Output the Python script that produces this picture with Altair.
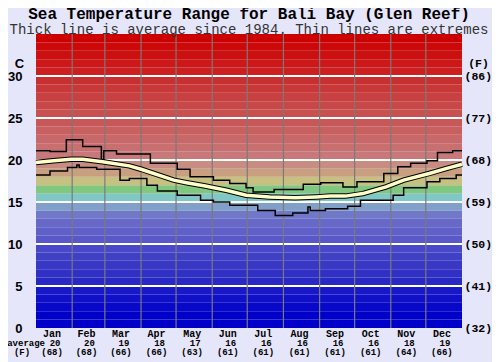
import altair as alt
import pandas as pd

# ---------------- data ----------------
months = ["Jan", "Feb", "Mar", "Apr", "May", "Jun",
          "Jul", "Aug", "Sep", "Oct", "Nov", "Dec"]
month_mid = [15.5, 45, 74.5, 105, 135.5, 166, 196.5, 227.5, 258, 288.5, 319, 349.5]
month_start = [31, 59, 90, 120, 151, 181, 212, 243, 273, 304, 334]
avg_c_label = ["20", "20", "19", "18", "17", "16", "16", "16", "16", "16", "18", "19"]
avg_f_label = ["(68)", "(68)", "(66)", "(66)", "(63)", "(61)",
               "(61)", "(61)", "(61)", "(61)", "(64)", "(66)"]

# maximum (thin upper line), step changes: day of year -> deg C
max_day = [0, 12, 24, 26, 40, 56, 58, 69, 98, 121, 132, 152, 166, 180, 186,
           204, 229, 244, 263, 275, 298, 310, 321, 335, 344, 357, 365]
max_val = [21.1, 21.0, 21.0, 22.4, 21.6, 19.6, 21.1, 20.7, 19.6, 18.9, 18.0,
           17.6, 17.2, 16.7, 16.2, 16.5, 17.1, 17.3, 16.8, 17.4, 18.4, 19.2,
           19.6, 19.9, 20.9, 21.1, 21.1]

# minimum (thin lower line)
min_day = [0, 12, 27, 35, 37, 52, 72, 80, 95, 104, 121, 141, 152, 166, 190,
           205, 220, 233, 235, 248, 267, 278, 306, 315, 335, 346, 360, 365]
min_val = [18.2, 18.7, 19.1, 19.4, 19.1, 18.9, 17.6, 17.8, 17.0, 16.3, 15.8,
           15.2, 15.0, 14.6, 14.0, 13.4, 13.7, 14.4, 14.0, 14.2, 14.5, 15.2,
           15.8, 16.7, 17.4, 17.8, 18.2, 18.2]

# average (thick line)
avg_day = [0, 15, 30, 40, 57, 80, 90, 118, 129, 145, 163, 180, 200, 222,
           240, 252, 265, 280, 300, 315, 337, 352, 365]
avg_val = [19.7, 19.9, 20.1, 20.1, 19.8, 19.3, 18.9, 17.6, 17.3, 16.9, 16.4,
           15.8, 15.6, 15.5, 15.6, 15.7, 15.7, 16.0, 16.8, 17.6, 18.4, 19.0, 19.5]

band_lo = list(range(35))
band_colors = ["#0000c8", "#0000c8", "#0808c8", "#1010c8", "#1818c8",
               "#2828c4", "#3030c4", "#3838c4", "#4040c4", "#4848c8",
               "#5858c8", "#6060c8", "#6868c8", "#7078c8", "#80a0c8",
               "#80c8c8", "#80c880", "#c8c080", "#c8a080", "#c88c80",
               "#c87878", "#c87070", "#c86868", "#c86060", "#c85858",
               "#c85050", "#c84848", "#c84040", "#c83838", "#c83030",
               "#cc2020", "#cc1818", "#cc1010", "#cc0808", "#cc0000"]
y_ticks = [0, 5, 10, 15, 20, 25, 30]

# ---------------- tables ----------------
bands = pd.DataFrame({"lo": band_lo, "hi": [v + 1 for v in band_lo], "color": band_colors})
hlines = pd.DataFrame({"t": y_ticks[1:]})
vlines = pd.DataFrame({"d": month_start})
mx = pd.DataFrame({"day": max_day, "t": max_val})
mn = pd.DataFrame({"day": min_day, "t": min_val})
av = pd.DataFrame({"day": avg_day, "t": avg_val})
lab = pd.DataFrame({"mid": month_mid, "m": months, "c": avg_c_label, "f": avg_f_label})

W, H = 426, 294
MONO = "Liberation Mono"
xs = alt.Scale(domain=[0, 365], nice=False, zero=False)
ys = alt.Scale(domain=[0, 35], nice=False, zero=False)

left_axis = alt.Axis(values=y_ticks, ticks=False, domain=False, grid=False,
                     labelFont="Liberation Sans", labelFontWeight="bold", labelFontSize=13,
                     labelColor="black", labelPadding=14, labelOverlap=False, labelFlush=False,
                     title="C", titleAngle=0, titleX=-17, titleY=29, titleAlign="center",
                     titleBaseline="middle", titleFont="Liberation Sans", titleFontSize=13,
                     titleFontWeight="bold", titleColor="black")

band_layer = alt.Chart(bands).mark_rect().encode(
    x=alt.value(0), x2=alt.value(W),
    y=alt.Y("lo:Q", scale=ys, axis=left_axis), y2="hi:Q",
    color=alt.Color("color:N", scale=None))

h_layer = alt.Chart(hlines).mark_rule(color="white", strokeWidth=2).encode(
    y=alt.Y("t:Q", scale=ys))

v_layer = alt.Chart(vlines).mark_rule(color="#7a7a7a", strokeWidth=1.2).encode(
    x=alt.X("d:Q", scale=xs, axis=None))

max_layer = alt.Chart(mx).mark_line(color="black", strokeWidth=1.5, interpolate="step-after").encode(
    x=alt.X("day:Q", scale=xs, axis=None), y=alt.Y("t:Q", scale=ys))
min_layer = alt.Chart(mn).mark_line(color="black", strokeWidth=1.5, interpolate="step-after").encode(
    x=alt.X("day:Q", scale=xs, axis=None), y=alt.Y("t:Q", scale=ys))
avg_outline = alt.Chart(av).mark_line(color="black", strokeWidth=5.5).encode(
    x=alt.X("day:Q", scale=xs, axis=None), y=alt.Y("t:Q", scale=ys))
avg_line = alt.Chart(av).mark_line(color="#ffffc8", strokeWidth=3.5).encode(
    x=alt.X("day:Q", scale=xs, axis=None), y=alt.Y("t:Q", scale=ys))

base_txt = dict(font=MONO, fontWeight="bold", color="black", align="center")
m_layer = alt.Chart(lab).mark_text(dx=-2, fontSize=10, **base_txt).encode(
    x=alt.X("mid:Q", scale=xs, axis=None), y=alt.value(H + 6), text="m:N")
c_layer = alt.Chart(lab).mark_text(dx=1, fontSize=9, **base_txt).encode(
    x=alt.X("mid:Q", scale=xs, axis=None), y=alt.value(H + 15), text="c:N")
f_layer = alt.Chart(lab).mark_text(dx=-2, fontSize=9, **base_txt).encode(
    x=alt.X("mid:Q", scale=xs, axis=None), y=alt.value(H + 24), text="f:N")
avg_word = alt.Chart(lab.head(1)).mark_text(font=MONO, fontWeight="bold", fontSize=9,
                                             color="black", align="right").encode(
    x=alt.value(9), y=alt.value(H + 15), text=alt.value("average"))
f_word = alt.Chart(lab.head(1)).mark_text(fontSize=9, **base_txt).encode(
    x=alt.value(-14), y=alt.value(H + 24), text=alt.value("(F)"))

inner = alt.layer(band_layer, h_layer, v_layer, max_layer, min_layer,
                  avg_outline, avg_line, m_layer, c_layer, f_layer, avg_word, f_word)

right_axis = alt.Axis(values=y_ticks, ticks=False, domain=False, grid=False, orient="right",
                      labelExpr="'(' + format(datum.value*9/5+32, 'd') + ')'",
                      labelFont=MONO, labelFontWeight="bold", labelFontSize=11.5,
                      labelColor="black", labelPadding=2, labelOverlap=False, labelFlush=False,
                      title="(F)", titleAngle=0, titleX=16, titleY=29, titleAlign="center",
                      titleBaseline="middle", titleFont=MONO, titleFontSize=11.5,
                      titleFontWeight="bold", titleColor="black")
right_layer = alt.Chart(hlines).mark_point(opacity=0).encode(
    y=alt.Y("t:Q", scale=ys, axis=right_axis))

chart = alt.layer(inner, right_layer).resolve_scale(y="independent").properties(
    width=W, height=H,
    autosize=alt.AutoSizeParams(type="none"),
    padding={"left": 28, "top": 26, "right": 30, "bottom": 34},
    background="#e6e6fa",
    title=alt.Title("Sea Temperature Range for Bali Bay (Glen Reef)",
                    subtitle="Thick line is average since 1984. Thin lines are extremes",
                    font=MONO, fontSize=16, fontWeight="bold", color="black",
                    subtitleFont=MONO, subtitleFontSize=14, subtitleColor="#333333",
                    subtitlePadding=1, anchor="middle", offset=-4),
).configure_view(stroke=None)

chart.save("out.html", embed_options={"renderer": "svg", "actions": False})
